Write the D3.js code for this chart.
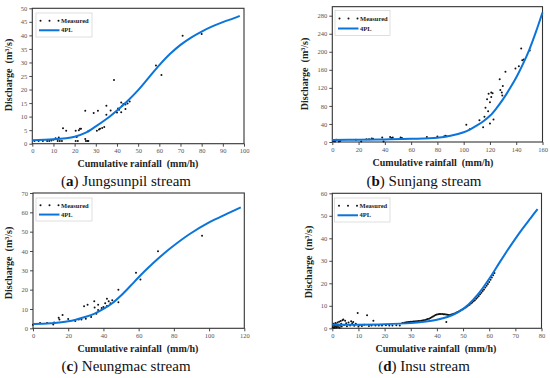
<!DOCTYPE html>
<html><head><meta charset="utf-8">
<script src="https://cdn.jsdelivr.net/npm/d3@7"></script>
<style>
html,body{margin:0;padding:0;background:#fff;}
svg{display:block;}
</style>
</head><body>
<svg id="chart" width="550" height="378"></svg>
<script>
// ---------- DATA ----------
const aTitle = ["a", "Jungsunpil stream"];
const aXTicks = [0,10,20,30,40,50,60,70,80,90,100];
const aYTicks = [0,5,10,15,20,25,30,35,40,45,50];
const aCurve = [[0,1.3],[10,1.6],[20,2.6],[25,4],[30,6.4],[35,9.1],[40,12.3],[45,15.8],[50,19.8],[55,24.4],[60,29],[65,33.1],[70,36.5],[75,39.2],[80,41.4],[85,43.3],[90,44.9],[95,46.3],[98,47.2]];
const aMeasured = [[1,1],[3,1],[5,1],[7,1],[8,1],[9,1.2],[10,1.5],[11,2],[12,1],[12.5,2.3],[13,1],[14,1],[14.5,5.7],[16,4.8],[20.5,1],[20.5,4.8],[21,2.5],[21.5,1],[22,5],[22.5,5.5],[23,5.5],[25,12.2],[25,1.7],[25.3,1],[26,1],[26.5,1],[26.5,4.6],[29,11.3],[30.5,4.8],[31,12.2],[31.5,5.2],[32,5.5],[33,5.8],[34,6.2],[35,14],[35,10.7],[37,12.3],[38.6,23.5],[40,11.5],[40.5,13],[41,12.5],[42,11.6],[42,15.2],[42.5,14],[43,14.7],[44,12.8],[44,14.5],[45,14.8],[46,15.6],[58.4,28.9],[61,25.4],[71,39.9],[80,40.5]];

const bTitle = ["b", "Sunjang stream"];
const bXTicks = [0,20,40,60,80,100,120,140,160];
const bYTicks = [0,40,80,120,160,200,240,280];
const bCurve = [[0,4.5],[20,5],[40,5.8],[60,7],[80,9.5],[90,14],[100,21.5],[105,28],[110,36.5],[115,46],[120,58],[125,75],[130,95],[135,118],[140,143],[145,172],[150,205],[155,244],[160,287]];
const bMeasured = [[1,2],[2,1],[3,5],[5,1],[6,2],[18,5],[22,1],[26,6],[28,6],[30,8],[31,7],[38,10],[39,1],[44,11],[45,9],[46,10],[52,10],[53,9],[72,11],[80,12],[85,12],[86,14],[87,13],[102,38],[104.6,28],[112,48],[114.8,32.5],[115.8,56],[116.6,76],[117.8,94.5],[118.6,68],[119,107],[120,88],[120,41],[121,100],[121,110],[122,108],[122.7,50],[127.4,139],[127.9,115],[129,110],[129.4,103],[129.8,124],[131.8,156],[139.4,163],[142,168],[143.8,207],[144.6,181],[145.7,183],[150.3,203]];

const cTitle = ["c", "Neungmac stream"];
const cXTicks = [0,20,40,60,80,100,120];
const cYTicks = [0,10,20,30,40,50,60,70];
const cCurve = [[0,2.2],[10,2.6],[20,3.6],[30,6],[35,7.6],[40,10],[45,13],[50,17],[55,21.6],[60,26.4],[66,31.8],[70,35.2],[78,41.4],[89,48.8],[100,54.8],[110,59.2],[118,62.6]];
const cMeasured = [[0,1.9],[4,2.8],[8,2.7],[11.5,2],[12,3],[14.6,5.5],[15,4.5],[16.8,6.9],[20,4.8],[24,3.8],[26,4.5],[27.5,4.5],[29,11.4],[30,5],[31,12.2],[33,5.8],[34.8,14],[35,10.8],[36,7.5],[37,12.2],[37,9.5],[39,10.5],[40,11],[41,13],[42,15.3],[42,11.5],[43,14],[44,13],[45,14.5],[48.5,20],[48.5,13.5],[58.5,28.8],[61,25.3],[71,39.8],[96,47.9]];

const dTitle = ["d", "Insu stream"];
const dXTicks = [0,10,20,30,40,50,60,70,80];
const dYTicks = [0,10,20,30,40,50,60];
const dCurve = [[0,1.6],[10,1.6],[20,1.8],[30,2.3],[35,2.9],[40,3.8],[44,5],[48,7.1],[52,10.5],[56,15.5],[60,22],[64,29.3],[68,36.4],[72,43.1],[76,49.2],[78.5,53]];
const dMeasured = [[0.2,0.5],[0.3,1.2],[0.5,2],[0.6,0.3],[0.8,1],[1,1.5],[1,0.2],[1.2,2.4],[1.4,0.8],[1.5,1.8],[1.7,0.4],[1.9,1.2],[2,2.6],[2.2,0.6],[2.4,1.6],[2.6,2.9],[2.8,0.3],[3,1.1],[3.2,3.3],[3.4,2],[3.6,0.8],[3.9,3.6],[4.2,3.9],[4.5,1.5],[4.9,3.4],[5.3,2.2],[5.6,0.9],[6.2,2.6],[6.8,1.2],[7.2,3.1],[7.6,2.2],[8,2.8],[8.4,1.1],[9,2],[9.7,6.8],[10,0.8],[10.5,1.5],[11.3,1],[12.2,1.6],[13.3,5.8],[14,1],[15,1.3],[15.7,3.4],[16.5,1.2],[17.8,1.3],[19,1.2],[20.5,1.4],[21.8,1.3],[23,1.2],[24.5,1.4],[25.8,1.2],
[26.8,2.4],[27.5,2.5],[28,2.6],[28.5,2.7],[29,2.8],[29.5,2.8],[30,2.9],[30.5,2.9],[31,3],[31.5,3],[32,3.1],[32.5,3.1],[33,3.2],[33.5,3.3],[34,3.4],[34.5,3.5],[35,3.6],[35.5,3.7],[36,3.9],[36.5,4.1],[37,4.3],[37.5,4.6],[38,4.9],[38.5,5.3],[39,5.6],[39.5,5.9],[40,6.1],[40.5,6.3],[41,6.4],[41.5,6.4],[42,6.4],[42.5,6.3],[43,6.2],[43.5,6.1],[44,6],[44.5,5.9],[45,5.9],[45.5,6.1],[46,6.3],[46.5,6.5],[47,6.7],[47.5,7],[48,7.3],[48.5,7.6],[49,7.9],[49.5,8.2],[50,8.5],[50.5,8.9],[51,9.3],[51.5,9.7],[52,10.1],[52.5,10.5],[53,11],[53.5,11.5],[54,12],[54.5,12.5],[55,13.1],[55.5,13.7],[56,14.4],[56.5,15.1],[57,15.8],[57.5,16.6],[58,17.3],[58.5,18.1],[59,18.9],[59.5,19.7],[60,20.6],[60.5,21.6],[61,22.6],[61.5,23.6],[62,24.6],[43.6,2.8]];

const legendLabels = ["Measured", "4PL"];
const xLabel = "Cumulative rainfall  (mm/h)";
const yLabel = "Discharge  (m\u00B3/s)";

// ---------- LAYOUT ----------
const panels = [
  {title:aTitle, xT:aXTicks, yT:aYTicks, curve:aCurve, pts:aMeasured, box:{l:32.3,r:244,t:8.3,b:143.7}, titleX:126, titleY:185.5, xlabX:138, xlabY:166.5, ylabX:12, ylabY:75, leg:{x:36,y:13,w:56,h:24}},
  {title:bTitle, xT:bXTicks, yT:bYTicks, curve:bCurve, pts:bMeasured, yMax:300, box:{l:332.3,r:542.5,t:142-300*0.4511,b:142}, titleX:424, titleY:185.5, xlabX:433, xlabY:165.5, ylabX:308, ylabY:74, leg:{x:335,y:10.5,w:55,h:25}},
  {title:cTitle, xT:cXTicks, yT:cYTicks, curve:cCurve, pts:cMeasured, box:{l:33,r:244.3,t:193,b:328.3}, titleX:126, titleY:371, xlabX:138, xlabY:352, ylabX:12, ylabY:263, leg:{x:36,y:198,w:56,h:23}},
  {title:dTitle, xT:dXTicks, yT:dYTicks, curve:dCurve, pts:dMeasured, box:{l:332.3,r:541.5,t:193.3,b:328.3}, titleX:424, titleY:371, xlabX:436, xlabY:351.5, ylabX:312, ylabY:262, leg:{x:334.5,y:198,w:55.5,h:24}}
];

const svg = d3.select("#chart");
svg.append("rect").attr("width",550).attr("height",378).attr("fill","#fff");
const serif = "'Liberation Serif', 'Times New Roman', serif";
const blue = "#0a74da";

panels.forEach(p => {
  const xs = p.xT, ys = p.yT;
  const x = d3.scaleLinear().domain([xs[0], xs[xs.length-1]]).range([p.box.l, p.box.r]);
  const yMax = p.yMax || ys[ys.length-1];
  const y = d3.scaleLinear().domain([0, yMax]).range([p.box.b, p.box.t]);
  const g = svg.append("g");

  // axes
  const xa = g.append("g").attr("transform", `translate(0,${p.box.b})`)
    .call(d3.axisBottom(x).tickValues(xs).tickSize(3).tickPadding(2).tickFormat(d3.format("d")));
  const ya = g.append("g").attr("transform", `translate(${p.box.l},0)`)
    .call(d3.axisLeft(y).tickValues(ys).tickSize(3).tickPadding(2).tickFormat(d3.format("d")));
  [xa, ya].forEach(a => {
    a.select(".domain").remove();
    a.selectAll("line").attr("stroke","#333").attr("stroke-width",0.9);
    a.selectAll("text").attr("font-family",serif).attr("font-size","6.5px").attr("fill","#555");
  });

  // frame
  g.append("rect").attr("x",p.box.l).attr("y",p.box.t)
    .attr("width",p.box.r-p.box.l).attr("height",p.box.b-p.box.t)
    .attr("fill","none").attr("stroke","#333").attr("stroke-width",1.1);

  // points
  g.append("g").selectAll("circle").data(p.pts).join("circle")
    .attr("cx", d => x(d[0])).attr("cy", d => y(d[1])).attr("r",1).attr("fill","#111");

  // curve
  g.append("path").datum(p.curve)
    .attr("d", d3.line().x(d=>x(d[0])).y(d=>y(d[1])).curve(d3.curveCatmullRom.alpha(0.5)))
    .attr("fill","none").attr("stroke",blue).attr("stroke-width",2);

  // legend
  const L = p.leg;
  const lg = g.append("g");
  lg.append("rect").attr("x",L.x).attr("y",L.y).attr("width",L.w).attr("height",L.h)
    .attr("fill","#fff").attr("stroke","#d0d0d0").attr("stroke-width",0.7);
  [0,1,2].forEach(i => lg.append("circle").attr("cx",L.x+4.5+i*9).attr("cy",L.y+L.h*0.32).attr("r",1).attr("fill","#111"));
  lg.append("line").attr("x1",L.x+3).attr("x2",L.x+23.5).attr("y1",L.y+L.h*0.72).attr("y2",L.y+L.h*0.72)
    .attr("stroke",blue).attr("stroke-width",2);
  lg.selectAll("text").data(legendLabels).join("text")
    .attr("x", L.x+25).attr("y",(d,i)=> L.y + (i===0? L.h*0.32 : L.h*0.72) + 2.2)
    .attr("font-family",serif).attr("font-weight","bold").attr("font-size","6.5px").attr("fill","#222")
    .text(d=>d);

  // axis labels
  g.append("text").attr("x",p.xlabX).attr("y",p.xlabY).attr("text-anchor","middle")
    .attr("font-family",serif).attr("font-weight","bold").attr("font-size","10px").attr("fill","#222")
    .style("white-space","pre").text(xLabel);
  g.append("text").attr("transform",`translate(${p.ylabX},${p.ylabY}) rotate(-90)`).attr("text-anchor","middle")
    .attr("font-family",serif).attr("font-weight","bold").attr("font-size","10px").attr("fill","#222")
    .style("white-space","pre").text(yLabel);

  // title
  const t = g.append("text").attr("x",p.titleX).attr("y",p.titleY).attr("text-anchor","middle")
    .attr("font-family",serif).attr("font-size","15px").attr("fill","#111");
  t.append("tspan").text("(");
  t.append("tspan").attr("font-weight","bold").text(p.title[0]);
  t.append("tspan").text(") " + p.title[1]);
});
</script>
</body></html>
